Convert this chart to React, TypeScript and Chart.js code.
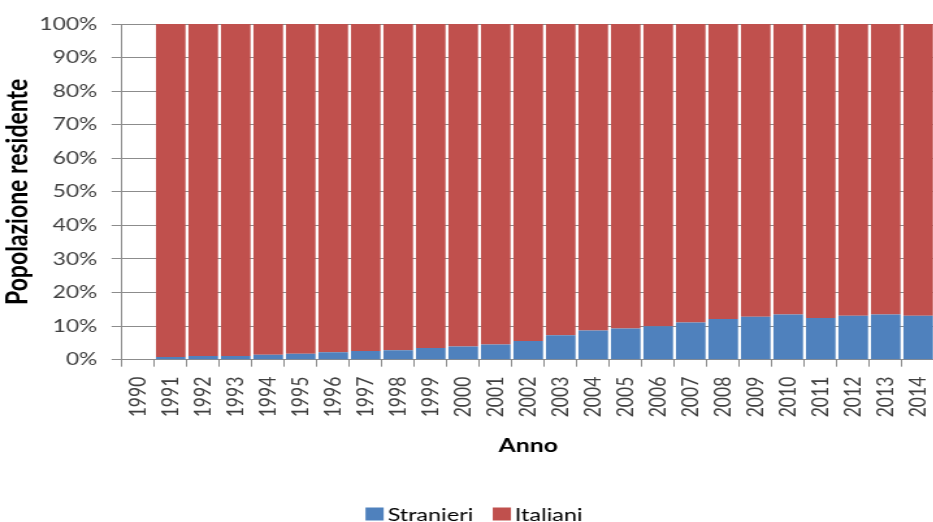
import React, { useEffect, useRef } from 'react';
import { Chart, registerables } from 'chart.js';

Chart.register(...registerables);

// ---- data ----
const years = [
  '1990', '1991', '1992', '1993', '1994', '1995', '1996', '1997', '1998', '1999',
  '2000', '2001', '2002', '2003', '2004', '2005', '2006', '2007', '2008', '2009',
  '2010', '2011', '2012', '2013', '2014',
];
const stranieri = [
  null, 0.8, 1.1, 1.1, 1.5, 1.8, 2.2, 2.6, 2.8, 3.5,
  3.9, 4.5, 5.6, 7.3, 8.7, 9.3, 10.0, 11.1, 12.1, 12.8,
  13.5, 12.4, 13.1, 13.5, 13.1,
];
const italiani = [
  null, 99.2, 98.9, 98.9, 98.5, 98.2, 97.8, 97.4, 97.2, 96.5,
  96.1, 95.5, 94.4, 92.7, 91.3, 90.7, 90.0, 88.9, 87.9, 87.2,
  86.5, 87.6, 86.9, 86.5, 86.9,
];
const seriesLabels = ['Stranieri', 'Italiani'];
const yTickMax = 100;
const yTickStep = 10;
const xTitle = 'Anno';
const yTitle = 'Popolazione residente';

// ---- styling ----
const SX = 1.3; // horizontal stretch of the whole picture
const FONT = 'Lato, "Noto Sans", sans-serif';
const BLUE = '#4F81BD';
const RED = '#C0504D';
const GRID = '#8C8C8C';
const TICK_COLOR = '#404040';

const legendPlugin = {
  id: 'bottomLegend',
  afterDraw(chart: any) {
    const ctx = chart.ctx as CanvasRenderingContext2D;
    ctx.save();
    ctx.font = `18px ${FONT}`;
    const items = chart.data.datasets.map((ds: any) => ({ label: ds.label, color: ds.backgroundColor }));
    const boxW = 14;
    const boxH = 13;
    const gapText = 3;
    const gapItem = 15;
    const widths = items.map((it: any) => boxW + gapText + ctx.measureText(it.label).width);
    const total = widths.reduce((a: number, b: number) => a + b, 0) + gapItem * (items.length - 1);
    const cx = 474 / SX;
    const cy = 514;
    let x = cx - total / 2;
    items.forEach((it: any, i: number) => {
      ctx.fillStyle = it.color;
      ctx.fillRect(x, cy - boxH / 2, boxW, boxH);
      ctx.fillStyle = '#000';
      ctx.textAlign = 'left';
      ctx.textBaseline = 'middle';
      ctx.fillText(it.label, x + boxW + gapText, cy + 1);
      x += widths[i] + gapItem;
    });
    ctx.restore();
  },
};

export default function App() {
  const canvasRef = useRef<HTMLCanvasElement | null>(null);

  useEffect(() => {
    if (!canvasRef.current) return;
    const chart = new Chart(canvasRef.current, {
      type: 'bar',
      data: {
        labels: years,
        datasets: [
          { label: seriesLabels[0], data: stranieri as any, backgroundColor: BLUE, borderWidth: 0 },
          { label: seriesLabels[1], data: italiani as any, backgroundColor: RED, borderWidth: 0 },
        ],
      },
      options: {
        animation: false,
        responsive: true,
        maintainAspectRatio: false,
        devicePixelRatio: 1,
        layout: { padding: { top: 24, left: 0, right: 800 - 934.5 / SX, bottom: 65 } },
        datasets: { bar: { categoryPercentage: 1, barPercentage: 0.91 } },
        plugins: {
          legend: { display: false },
          tooltip: { enabled: false },
        },
        scales: {
          x: {
            stacked: true,
            offset: true,
            grid: {
              offset: true,
              drawOnChartArea: false,
              drawTicks: true,
              tickLength: 7,
              color: GRID,
            },
            border: { display: true, color: GRID, width: 1 },
            ticks: {
              minRotation: 90,
              maxRotation: 90,
              autoSkip: false,
              padding: 10,
              color: TICK_COLOR,
              font: { family: FONT, size: 17.5 },
            },
            title: {
              display: true,
              text: xTitle,
              color: '#000',
              padding: 0,
              font: { family: FONT, size: 19, weight: 'bold' },
            },
            afterFit: (scale: any) => {
              scale.height = 458 - 360.7;
            },
          },
          y: {
            stacked: true,
            min: 0,
            max: yTickMax,
            grid: { color: GRID, tickLength: 8, drawTicks: true },
            border: { display: true, color: GRID, width: 1 },
            ticks: {
              stepSize: yTickStep,
              padding: 11,
              color: TICK_COLOR,
              font: { family: FONT, size: 17.5 },
              callback: (v: any) => `${v}%`,
            },
            title: {
              display: true,
              text: yTitle,
              color: '#000',
              padding: 0,
              font: { family: FONT, size: 23, weight: 'bold' },
            },
            afterFit: (scale: any) => {
              scale.width = 122 / SX;
            },
          },
        },
      },
      plugins: [legendPlugin],
    });
    return () => chart.destroy();
  }, []);

  return (
    <div
      style={{
        position: 'fixed',
        left: 0,
        top: 0,
        width: 933,
        height: 522,
        overflow: 'hidden',
        background: '#fff',
      }}
    >
      <div
        style={{
          position: 'absolute',
          left: 0,
          top: 0,
          width: 800,
          height: 522,
          transform: `scaleX(${SX})`,
          transformOrigin: '0 0',
        }}
      >
        <canvas ref={canvasRef} />
      </div>
    </div>
  );
}
